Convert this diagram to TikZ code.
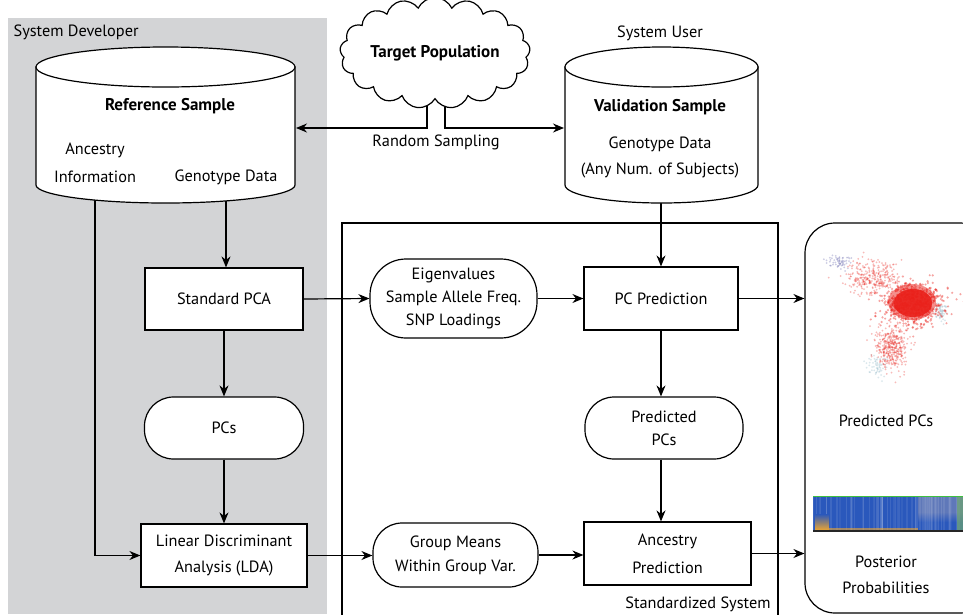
\documentclass[tikz,border=0pt]{standalone}
\usepackage{fontspec}
\setmainfont{PT Sans}
\usetikzlibrary{shapes.symbols,shapes.misc,arrows.meta,calc}
\definecolor{panelgray}{RGB}{211,212,214}
\definecolor{dotred}{RGB}{234,32,26}
\definecolor{barblue}{RGB}{42,88,188}
\definecolor{barblue2}{RGB}{95,120,185}
\definecolor{barorange}{RGB}{235,165,50}
\definecolor{bargreen}{RGB}{110,165,110}
\newcommand{\bfsz}{\fontsize{17}{23}\selectfont\bfseries}
\begin{document}
\begin{tikzpicture}[x=1pt,y=-1pt,
  font=\fontsize{16.3}{23}\selectfont,
  line width=1.2pt,
  arr/.style={-{Stealth[length=11pt,width=9pt]}},
  procbox/.style={draw, fill=white, inner sep=0pt, align=center},
  pill/.style={draw, fill=white, inner sep=0pt, align=center, rounded corners=29pt},
  lbl/.style={inner sep=0pt, align=center}]
\useasboundingbox (0,0) rectangle (963,614);
\fill[white] (0,0) rectangle (963,614);
% developer panel
\fill[panelgray] (8,18) rectangle (327,614);
\node[lbl, anchor=west] (devlbl) at (13,32) {System Developer};
% standardized system frame
\draw (342,640) -- (342,223) -- (778,223) -- (778,640);
\node[lbl] (stdlbl) at (698,604) {Standardized System};
% results panel
\node[draw, rounded corners=30pt, minimum width=185pt, minimum height=390pt, inner sep=0pt] (res) at (897.5,418) {};

% connector anchors on cylinders
\coordinate (refA) at (95,190);
\coordinate (refG) at (226,190);
\coordinate (refE) at (296,128);
\coordinate (valW) at (564,128);
\coordinate (valS) at (661,190);
\coordinate (tpL) at (427,90);
\coordinate (tpR) at (445,90);

% process nodes
\node[procbox, minimum width=158pt, minimum height=62pt] (pca) at (224,299) {Standard PCA};
\node[pill, minimum width=159pt, minimum height=62pt] (pcs) at (224,428) {PCs};
\node[procbox, minimum width=166pt, minimum height=63pt] (lda) at (224,555.5) {Linear Discriminant\\[3pt]Analysis (LDA)};
\node[pill, minimum width=167pt, minimum height=79pt, rounded corners=36pt] (eig) at (453.5,298.5) {Eigenvalues\\Sample Allele Freq.\\SNP Loadings};
\node[procbox, minimum width=154pt, minimum height=63pt] (pcp) at (661,298.5) {PC Prediction};
\node[pill, minimum width=158pt, minimum height=62pt] (ppc) at (664,428) {Predicted\\PCs};
\node[pill, minimum width=165pt, minimum height=64pt] (grp) at (455.5,555) {Group Means\\[1pt]Within Group Var.};
\node[procbox, minimum width=167pt, minimum height=63pt] (anc) at (667.5,553.5) {Ancestry\\[5pt]Prediction};

% connectors
\draw[arr] (tpL) |- (refE);
\draw[arr] (tpR) |- (valW);
\draw[arr] (refG) -- (refG |- pca.north);
\draw[arr] (refA) |- (lda.west);
\draw[arr] (pca.south) -- (pcs.north);
\draw[arr] (pcs.south) -- (lda.north);
\draw[arr] (valS) -- (valS |- pcp.north);
\draw[arr] (pca.east) -- (eig.west);
\draw[arr] (eig.east) -- (eig.east -| pcp.west);
\draw[arr] (pcp.east) -- (pcp.east -| res.west);
\draw[arr] (pcp.south) -- (pcp.south |- ppc.north);
\draw[arr] (pcp.south |- ppc.south) -- (pcp.south |- anc.north);
\draw[arr] (lda.east) -- (lda.east -| grp.west);
\draw[arr] (grp.east) -- (grp.east -| anc.west);
\draw[arr] (anc.east) -- (anc.east -| res.west);

% reference cylinder
\filldraw[fill=white] (36,67) -- (36,185) arc[start angle=180, end angle=360, x radius=129.5pt, y radius=18pt] -- (295,67) -- cycle;
\filldraw[fill=white] (165.5,67) ellipse[x radius=129.5pt, y radius=20pt];
\node[lbl] (reft) at (170,106) {\bfsz Reference Sample};
\node[lbl] (anct1) at (95,150) {Ancestry};
\node[lbl] (anct2) at (95,177) {Information};
\node[lbl] (genot) at (226,177) {Genotype Data};

% validation cylinder
\filldraw[fill=white] (565,67) -- (565,185) arc[start angle=180, end angle=360, x radius=96.5pt, y radius=18pt] -- (758,67) -- cycle;
\filldraw[fill=white] (661.5,67) ellipse[x radius=96.5pt, y radius=20pt];
\node[lbl] (userlbl) at (660,33) {System User};
\node[lbl] (valt) at (660,107) {\bfsz Validation Sample};
\node[lbl] (vgeno) at (660,144) {Genotype Data};
\node[lbl] (vany) at (660,170) {(Any Num. of Subjects)};

% target population cloud
\node[cloud, cloud puffs=17, cloud puff arc=130, aspect=2, draw, fill=white, minimum width=188pt, minimum height=94pt, inner sep=0pt] (tp) at (435,53) {\bfsz Target Population};
\node[lbl] (rs) at (436,142) {Random Sampling};

% scatter plot
\pgfmathsetseed{7}
\foreach \i in {1,...,60}{
  \pgfmathsetmacro\ra{sqrt(-2*ln(rnd*0.998+0.001))}
  \pgfmathsetmacro\th{rnd*360}
  \fill[gray!70!blue, opacity=0.3] ({838+6*\ra*cos(\th)}, {262+3*\ra*sin(\th)}) circle (1pt);
  \fill[gray!60!cyan, opacity=0.25] ({876+5*\ra*cos(\th)}, {366+5*\ra*sin(\th)}) circle (1pt);
  \fill[gray!60!cyan, opacity=0.25] ({940+3*\ra*cos(\th)}, {312+4*\ra*sin(\th)}) circle (1pt);
}
\foreach \i in {1,...,300}{
  \pgfmathsetmacro\ra{sqrt(-2*ln(rnd*0.998+0.001))}
  \pgfmathsetmacro\th{rnd*360}
  \fill[dotred, opacity=0.3] ({872+14*\ra*cos(\th)}, {277+8*\ra*sin(\th)}) circle (1pt);
}
\foreach \i in {1,...,380}{
  \pgfmathsetmacro\ra{sqrt(-2*ln(rnd*0.998+0.001))}
  \pgfmathsetmacro\th{rnd*360}
  \fill[dotred, opacity=0.3] ({892+8*\ra*cos(\th)}, {348+11*\ra*sin(\th)}) circle (1pt);
}
\foreach \i in {1,...,700}{
  \pgfmathsetmacro\ra{sqrt(-2*ln(rnd*0.998+0.001))}
  \pgfmathsetmacro\th{rnd*360}
  \fill[dotred, opacity=0.4] ({913+15*\ra*cos(\th)}, {303+11*\ra*sin(\th)}) circle (1.2pt);
}
\fill[dotred, opacity=0.5] (912,302) ellipse[x radius=24pt, y radius=18pt];
\fill[dotred, opacity=0.9] (913,303) ellipse[x radius=19pt, y radius=14pt];
\node[lbl] (ppclbl) at (886,421) {Predicted PCs};

% posterior bar
\fill[barblue] (813,496) rectangle (963,531);
\fill[barblue2] (918,496) rectangle (963,512);
\shade[top color=barblue2, bottom color=barblue] (918,512) rectangle (963,522);
\fill[barblue] (918,522) rectangle (963,531);
\pgfmathsetseed{3}
\foreach \xx in {0,...,70}{
  \pgfmathsetmacro\px{813+rnd*148}
  \pgfmathsetmacro\pw{0.6+rnd*1.5}
  \pgfmathsetmacro\po{0.04+rnd*0.08}
  \fill[white, opacity=\po] (\px,497) rectangle (\px+\pw,530);
}
\fill[bargreen, opacity=0.7] (957,496) rectangle (963,531);
\shade[top color=barblue, bottom color=barorange] (815,514) rectangle (829,530);
\fill[barorange, opacity=0.6] (829,528) rectangle (918,530);
\draw[line width=0.6pt, gray!50!green] (813,496) -- (963,496);
\draw[line width=1.4pt, black!85] (813,531) -- (963,531);
\node[lbl] (post1) at (886,562) {Posterior};
\node[lbl] (post2) at (886,588) {Probabilities};
\end{tikzpicture}
\end{document}
